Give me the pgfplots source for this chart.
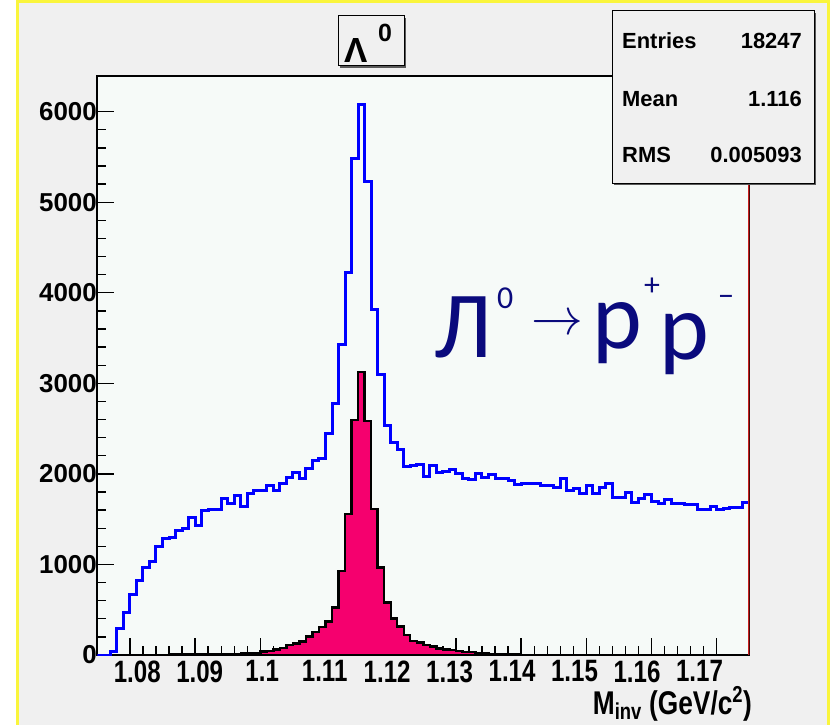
\RequirePackage{fix-cm}
\documentclass[border=0pt]{standalone}
\usepackage{fontspec}
\setmainfont{Liberation Sans}
\newfontfamily\calib{Carlito}
\usepackage{pgfplots}
\usepackage{pgfplotstable}
\pgfplotsset{compat=1.18}

\definecolor{panel}{RGB}{240,240,240}
\definecolor{plotbg}{RGB}{246,250,248}
\definecolor{sigpink}{RGB}{245,0,110}
\definecolor{rootyellow}{RGB}{250,245,60}
\definecolor{navy}{RGB}{10,10,125}
\definecolor{framered}{RGB}{200,30,30}

% bin left edges (width 0.001), last row closes the final bin
\pgfplotstableread{
x sig tot
1.075 0 0
1.076 0 0
1.077 0 37
1.078 0 295
1.079 0 468
1.080 2 663
1.081 2 828
1.082 2 965
1.083 2 1038
1.084 3 1193
1.085 3 1285
1.086 4 1296
1.087 4 1377
1.088 4 1399
1.089 5 1524
1.090 5 1425
1.091 7 1598
1.092 7 1609
1.093 8 1609
1.094 8 1730
1.095 10 1671
1.096 12 1767
1.097 15 1638
1.098 18 1782
1.099 25 1815
1.100 40 1815
1.101 46 1867
1.102 62 1822
1.103 78 1892
1.104 110 1955
1.105 125 2021
1.106 150 1949
1.107 205 2065
1.108 256 2150
1.109 310 2175
1.110 370 2445
1.111 526 2782
1.112 928 3424
1.113 1557 4222
1.114 2595 5485
1.115 3122 6074
1.116 2584 5227
1.117 1612 3810
1.118 968 3103
1.119 582 2535
1.120 405 2345
1.121 313 2265
1.122 221 2080
1.123 155 2093
1.124 136 2106
1.125 110 1972
1.126 92 2089
1.127 74 2014
1.128 63 2032
1.129 55 2051
1.130 42 2007
1.131 35 1951
1.132 30 1933
1.133 24 1999
1.134 18 1962
1.135 14 1988
1.136 10 1951
1.137 8 1944
1.138 6 1922
1.139 5 1885
1.140 3 1896
1.141 3 1896
1.142 3 1896
1.143 2 1870
1.144 2 1867
1.145 2 1852
1.146 1 1944
1.147 1 1815
1.148 1 1841
1.149 1 1785
1.150 1 1867
1.151 1 1785
1.152 1 1852
1.153 1 1896
1.154 0 1737
1.155 0 1737
1.156 0 1793
1.157 0 1686
1.158 0 1730
1.159 0 1774
1.160 0 1693
1.161 0 1675
1.162 0 1712
1.163 0 1675
1.164 0 1675
1.165 0 1657
1.166 0 1657
1.167 0 1612
1.168 0 1612
1.169 0 1645
1.170 0 1608
1.171 0 1620
1.172 0 1630
1.173 0 1630
1.174 0 1682
1.175 0 1682
}\hist

\begin{document}
\begin{tikzpicture}[x=1bp,y=1bp]
\useasboundingbox (0,0) rectangle (830,-725);
\fill[white] (0,0) rectangle (830,-725);
\fill[panel] (18,-3) rectangle (830,-725);
\fill[rootyellow] (16,0) rectangle (830,-3);
\fill[rootyellow] (16,0) rectangle (19,-725);
\fill[rootyellow] (827,0) rectangle (830,-725);

\begin{axis}[
  at={(97.3bp,-655bp)}, anchor=south west, scale only axis,
  width=652bp, height=579bp,
  xmin=1.075, xmax=1.175, ymin=0, ymax=6394,
  axis background/.style={fill=plotbg},
  xtick={1.08,1.09,1.1,1.11,1.12,1.13,1.14,1.15,1.16,1.17},
  xticklabels={1.08,1.09,1.1,1.11,1.12,1.13,1.14,1.15,1.16,1.17},
  ytick={0,1000,2000,3000,4000,5000,6000},
  yticklabels={0,1000,2000,3000,4000,5000,6000},
  minor x tick num=4, minor y tick num=4,
  xtick pos=left, ytick pos=left,
  tick align=inside,
  major tick length=17bp, minor tick length=9bp,
  every tick/.style={black, line width=1.3bp},
  axis line style={black, line width=2bp},
  ticklabel style={font=\fontsize{26}{30}\selectfont\bfseries},
  xticklabel style={font=\fontsize{31}{34}\selectfont\bfseries, xscale=0.78, yshift=-2bp,
    xshift={(2.4-3.5*(\ticknum-2))*1bp}},
  yticklabel style={xshift=3bp},
]
\addplot[const plot, fill=sigpink, draw=black, line width=2.4bp] table[x=x, y=sig] {\hist} \closedcycle;
\addplot[const plot, draw=blue, line width=3bp] table[x=x, y=tot] {\hist};
\draw[framered, line width=2bp] (rel axis cs:1,0) -- (rel axis cs:1,1);
\end{axis}

% title box
\fill[black!65] (340,-18) rectangle (406,-68);
\fill[panel] (338,-16) rectangle (404,-66);
\draw[black, line width=1bp] (338,-16) rectangle (404,-66);
\node[anchor=base west, inner sep=0, font=\fontsize{35}{38}\selectfont\bfseries] at (344,-63) {Λ};
\node[anchor=base west, inner sep=0, font=\fontsize{25}{28}\selectfont\bfseries] at (378,-42) {0};

% stats box
\fill[black!65] (614,-13) rectangle (816,-185);
\fill[panel] (612,-11) rectangle (814,-183);
\draw[black, line width=1bp] (612,-11) rectangle (814,-183);
\begin{scope}[every node/.style={inner sep=0, font=\fontsize{22}{26}\selectfont\bfseries}]
\node[anchor=base west] at (622,-49) {Entries};
\node[anchor=base east] at (802,-49) {18247};
\node[anchor=base west] at (622,-107) {Mean};
\node[anchor=base east] at (802,-107) {1.116};
\node[anchor=base west] at (622,-163) {RMS};
\node[anchor=base east] at (802,-163) {0.005093};
\end{scope}

% x axis title
\node[anchor=base east, inner sep=0, xscale=0.8, font=\fontsize{33}{36}\selectfont\bfseries] at (752,-714) {M\textsubscript{inv} (GeV/c\textsuperscript{2})};

% decay annotation
\begin{scope}[every node/.style={inner sep=0, text=navy}]
\node[anchor=base west, font=\calib\fontsize{95}{100}\selectfont] at (434,-357) {Л};
\node[anchor=base west, font=\calib\fontsize{32}{36}\selectfont] at (497,-308) {0};
\node[font=\fontsize{52}{60}\selectfont] at (557,-325) {$\rightarrow$};
\node[anchor=base west, font=\calib\fontsize{95}{100}\selectfont] at (592,-348) {p};
\node[font=\calib\fontsize{32}{36}\selectfont] at (652,-287) {+};
\node[anchor=base west, font=\calib\fontsize{95}{100}\selectfont] at (659,-359) {p};
\node[font=\calib\fontsize{32}{36}\selectfont] at (726,-301) {−};
\end{scope}
\end{tikzpicture}
\end{document}
